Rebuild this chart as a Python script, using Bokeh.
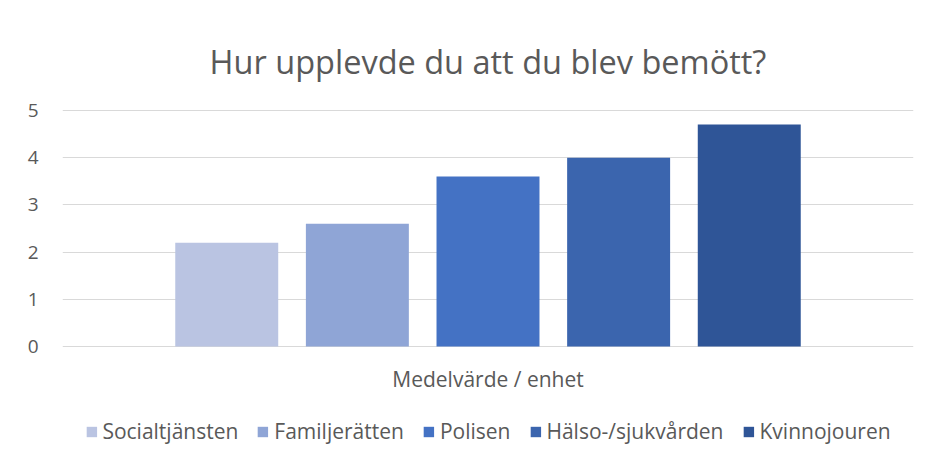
from bokeh.plotting import figure
from bokeh.models import FactorRange, Range1d, FixedTicker, Legend, LegendItem, Title
from bokeh.core.properties import value
from bokeh.transform import dodge
from bokeh.embed import file_html
from bokeh.resources import INLINE

title_text = "Hur upplevde du att du blev bemött?"
category = ["Medelvärde / enhet"]
series = ["Socialtjänsten", "Familjerätten", "Polisen", "Hälso-/sjukvården", "Kvinnojouren"]
values = [2.2, 2.6, 3.6, 4.0, 4.7]
colors = ["#BAC4E2", "#8FA5D6", "#4472C4", "#3B65AE", "#2F5597"]
y_ticks = [0, 1, 2, 3, 4, 5]

FONT = "Open Sans"
TXT = "#595959"
LABEL_Y = -0.68  # vertical place of the category label below the baseline

p = figure(width=928, height=461, output_backend="svg", toolbar_location=None,
           x_axis_location=None,
           x_range=FactorRange(factors=category, range_padding=0),
           y_range=Range1d(-2.436, 5.02),
           min_border_left=62, min_border_right=15, min_border_top=109, min_border_bottom=0)

step = 0.1535
bw = 0.121
items = []
for i, (name, val, col) in enumerate(zip(series, values, colors)):
    src = {"x": category, "top": [val]}
    r = p.vbar(x=dodge("x", (i - 2) * step, range=p.x_range), top="top", bottom=0, width=bw,
               source=src, fill_color=col, line_color=None)
    items.append(LegendItem(label=name, renderers=[r]))

# category label under the baseline
p.text(x=category, y=[LABEL_Y], text=category, text_font=value(FONT), text_font_size="21px",
       text_color=TXT, text_align="center", text_baseline="middle")

legend = Legend(items=items, orientation="horizontal", location="bottom_center",
                label_text_font=FONT, label_text_font_size="21px", label_text_color=TXT,
                glyph_width=13, glyph_height=13, label_standoff=5, spacing=18,
                border_line_color=None, background_fill_alpha=0, padding=0, margin=16)
p.add_layout(legend, "center")

p.title = Title(text=title_text, align="center", text_font=FONT, text_font_size="32.5px",
                text_font_style="normal", text_color=TXT, standoff=52)

p.outline_line_color = None
p.xgrid.grid_line_color = None
p.ygrid.grid_line_color = "#D9D9D9"
p.ygrid.grid_line_width = 1
p.yaxis.ticker = FixedTicker(ticks=y_ticks)
p.ygrid.ticker = FixedTicker(ticks=y_ticks)
p.yaxis.axis_line_color = None
p.yaxis.major_tick_line_color = None
p.yaxis.minor_tick_line_color = None
p.yaxis.major_label_text_font = FONT
p.yaxis.major_label_text_font_size = "19px"
p.yaxis.major_label_text_color = TXT
p.yaxis.major_label_standoff = 18

open("out.html", "w").write(file_html(p, INLINE))
